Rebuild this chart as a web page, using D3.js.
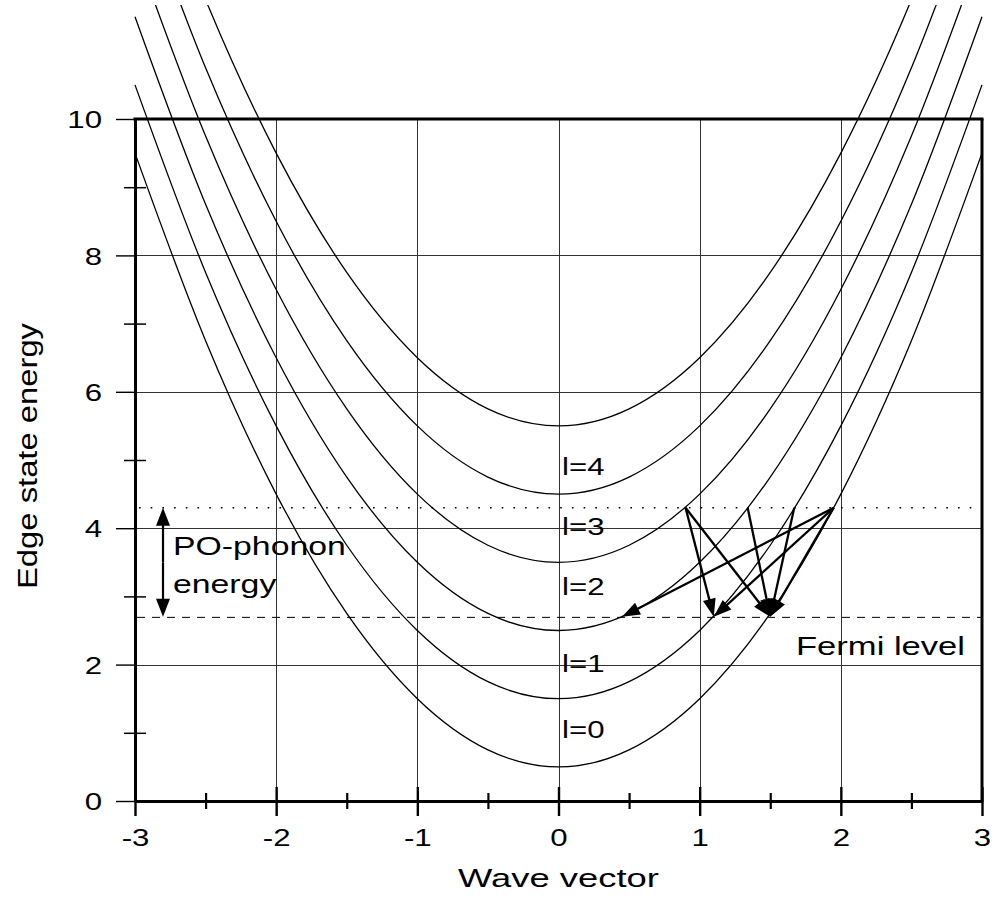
<!DOCTYPE html>
<html><head><meta charset="utf-8">
<script src="https://cdn.jsdelivr.net/npm/d3@7"></script>
<style>
body{margin:0;background:#fff}
svg{display:block;background:#fff}
text{font-family:"Liberation Sans",Arial,Helvetica,sans-serif;fill:#000}
</style>
</head><body>
<svg id="chart" width="993" height="903"></svg>
<script>
// ---- data ----
const waveVector = [-3,-2.5,-2,-1.5,-1,-0.5,0,0.5,1,1.5,2,2.5,3];
const bandL0 = [9.5,6.75,4.5,2.75,1.5,0.75,0.5,0.75,1.5,2.75,4.5,6.75,9.5];
const bandL1 = [10.5,7.75,5.5,3.75,2.5,1.75,1.5,1.75,2.5,3.75,5.5,7.75,10.5];
const bandL2 = [11.5,8.75,6.5,4.75,3.5,2.75,2.5,2.75,3.5,4.75,6.5,8.75,11.5];
const bandL3 = [12.5,9.75,7.5,5.75,4.5,3.75,3.5,3.75,4.5,5.75,7.5,9.75,12.5];
const bandL4 = [13.5,10.75,8.5,6.75,5.5,4.75,4.5,4.75,5.5,6.75,8.5,10.75,13.5];
const bandL5 = [14.5,11.75,9.5,7.75,6.5,5.75,5.5,5.75,6.5,7.75,9.5,11.75,14.5];
const bandLabels = ["l=0","l=1","l=2","l=3","l=4"];
const bandLabelK = [0.025,0.025,0.025,0.025,0.025];
const bandLabelE = [0.92,1.89,3.02,3.90,4.78];
const xTicks = [-3,-2,-1,0,1,2,3];
const xMinorTicks = [-2.5,-1.5,-0.5,0.5,1.5,2.5];
const yTicks = [0,2,4,6,8,10];
const yMinorTicks = [1,3,5,7,9];
const xGrid = [-2,-1,0,1,2];
const yGrid = [2,4,6,8];
const phononLevel = 4.3;
const fermiLevel = 2.7;
const arrowStartK = [0.9,0.9,1.34,1.67,1.95,1.95,1.95];
const arrowEndK   = [1.1,1.5,1.5,1.5,0.45,1.1,1.5];
const xTitle = "Wave vector";
const yTitle = "Edge state energy";

// ---- chart ----
const svg = d3.select("#chart");
const x = d3.scaleLinear().domain([-3,3]).range([135,982]);
const y = d3.scaleLinear().domain([0,10]).range([801,119]);
const bands = [bandL0,bandL1,bandL2,bandL3,bandL4,bandL5];

svg.append("defs").append("clipPath").attr("id","clip")
  .append("rect").attr("x",0).attr("y",5).attr("width",993).attr("height",796);

// grid
const grid = svg.append("g").attr("stroke","#333").attr("stroke-width",1);
grid.selectAll("line.v").data(xGrid).join("line").attr("class","v")
  .attr("x1",d=>Math.round(x(d))+0.5).attr("x2",d=>Math.round(x(d))+0.5)
  .attr("y1",y(10)).attr("y2",y(0));
grid.selectAll("line.h").data(yGrid).join("line").attr("class","h")
  .attr("y1",d=>Math.round(y(d))+0.5).attr("y2",d=>Math.round(y(d))+0.5)
  .attr("x1",x(-3)).attr("x2",x(3));

// reference levels
svg.append("line").attr("x1",x(-3)+4).attr("x2",x(3)-4)
  .attr("y1",y(phononLevel)).attr("y2",y(phononLevel))
  .attr("stroke","#000").attr("stroke-width",1.6).attr("stroke-dasharray","1.6 10.1");
svg.append("line").attr("x1",x(-3)+2).attr("x2",x(3))
  .attr("y1",y(fermiLevel)+0.5).attr("y2",y(fermiLevel)+0.5)
  .attr("stroke","#000").attr("stroke-width",1).attr("stroke-dasharray","8 7");

// bands
const line = d3.line().x((d,i)=>x(waveVector[i])).y(d=>y(d)).curve(d3.curveCatmullRom.alpha(0));
svg.append("g").attr("clip-path","url(#clip)")
  .selectAll("path").data(bands).join("path")
  .attr("d",line).attr("fill","none").attr("stroke","#000").attr("stroke-width",1.3);

// axes
function styleAxis(g){ g.select(".domain").attr("stroke","#000").attr("stroke-width",3); }
const xAxis = svg.append("g").attr("transform",`translate(0,${y(0)})`)
  .call(d3.axisBottom(x).tickValues(xTicks).tickSize(15).tickSizeOuter(0).tickFormat(d3.format("d")));
xAxis.call(styleAxis);
xAxis.selectAll(".tick line").attr("y1",-14).attr("stroke","#000").attr("stroke-width",2.4);
xAxis.selectAll(".tick text").attr("y",null).attr("dy",null)
  .attr("transform","translate(0,45) scale(1.3,1)").style("font-size","24px").text(d=>d3.format("d")(d).replace("−","-"));
const xMinor = svg.append("g").attr("transform",`translate(0,${y(0)})`)
  .call(d3.axisBottom(x).tickValues(xMinorTicks).tickSize(8).tickFormat(""));
xMinor.select(".domain").remove();
xMinor.selectAll(".tick line").attr("y1",-8).attr("stroke","#000").attr("stroke-width",2.2);

const yAxis = svg.append("g").attr("transform",`translate(${x(-3)},0)`)
  .call(d3.axisLeft(y).tickValues(yTicks).tickSize(19).tickSizeOuter(0).tickFormat(d3.format("d")));
yAxis.call(styleAxis);
yAxis.selectAll(".tick line").attr("stroke","#000").attr("stroke-width",1.4);
yAxis.selectAll(".tick text").attr("x",null).attr("dy","0.36em")
  .attr("transform","translate(-33,0) scale(1.3,1)").style("font-size","24px").attr("text-anchor","end");
const yMinor = svg.append("g").attr("transform",`translate(${x(-3)},0)`)
  .call(d3.axisLeft(y).tickValues(yMinorTicks).tickSize(11).tickFormat(""));
yMinor.select(".domain").remove();
yMinor.selectAll(".tick line").attr("x1",11).attr("stroke","#000").attr("stroke-width",1.5);

// top and right frame
svg.append("line").attr("x1",x(-3)-1.5).attr("x2",x(3)+1.5).attr("y1",y(10)).attr("y2",y(10))
  .attr("stroke","#000").attr("stroke-width",3);
svg.append("line").attr("x1",x(3)).attr("x2",x(3)).attr("y1",y(10)).attr("y2",y(0)+1.5)
  .attr("stroke","#000").attr("stroke-width",3);

// arrows
function arrow(g, x0,y0,x1,y1, headLen, headW, lw){
  const dx=x1-x0, dy=y1-y0, L=Math.hypot(dx,dy), ux=dx/L, uy=dy/L;
  const bx=x1-ux*headLen, by=y1-uy*headLen;
  g.append("line").attr("x1",x0).attr("y1",y0).attr("x2",bx+ux*2).attr("y2",by+uy*2)
    .attr("stroke","#000").attr("stroke-width",lw);
  g.append("path").attr("d",`M${x1},${y1}L${bx-uy*headW/2},${by+ux*headW/2}L${bx+uy*headW/2},${by-ux*headW/2}Z`)
    .attr("fill","#000");
}
const ag = svg.append("g");
arrowStartK.forEach((k,i)=>{
  arrow(ag, x(k), y(phononLevel), x(arrowEndK[i]), y(fermiLevel), 18, 13, 2.3);
});
// phonon energy double arrow
const px = 163;
const pg = svg.append("g");
const mid = (y(phononLevel)+y(fermiLevel))/2;
arrow(pg, px, mid, px, y(phononLevel), 18, 14, 2.2);
arrow(pg, px, mid, px, y(fermiLevel), 18, 14, 2.2);

// texts
function txt(str, tx, ty, size, sx, anchor){
  return svg.append("text").attr("transform",`translate(${tx},${ty}) scale(${sx},1)`)
    .attr("text-anchor",anchor||"start").style("font-size",size+"px").text(str);
}
bandLabels.forEach((s,i)=>txt(s, x(bandLabelK[i]), y(bandLabelE[i]), 24, 1.3));
txt("PO-phonon", 173, 555, 26, 1.3);
txt("energy", 173, 593, 26, 1.3);
txt("Fermi level", 796, 655, 26, 1.33);
txt(xTitle, (x(-3)+x(3))/2, 887, 26, 1.4, "middle");
svg.append("text").attr("transform","translate(37,456) rotate(-90)")
  .attr("text-anchor","middle").style("font-size","27px")
  .attr("textLength",266).attr("lengthAdjust","spacingAndGlyphs").text(yTitle);
</script>
</body></html>
